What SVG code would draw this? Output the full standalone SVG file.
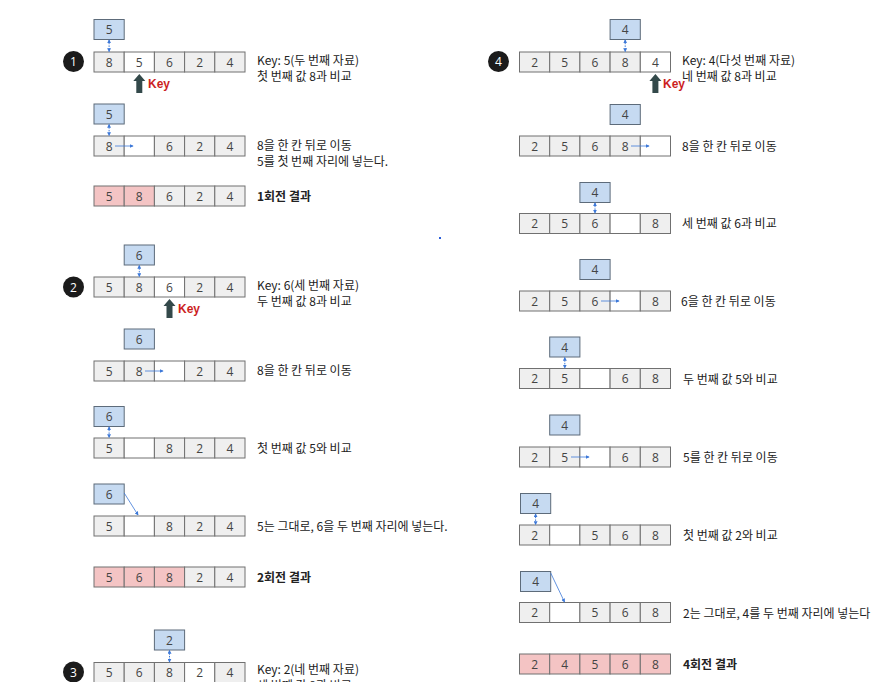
<svg xmlns="http://www.w3.org/2000/svg" width="875" height="682" viewBox="0 0 875 682">
<defs>
<style>
.c{fill:#efefef;stroke:#707070;stroke-width:1}
.e{fill:#ffffff;stroke:#707070;stroke-width:1}
.p{fill:#f4c4c4;stroke:#707070;stroke-width:1}
.k{fill:#c6daf1;stroke:#5d6b7a;stroke-width:1}
.n{font-family:"Open Sans","Noto Sans CJK KR",sans-serif;font-size:12px;fill:#444;text-anchor:middle}
.d{font-family:"Noto Sans CJK KR","Noto Sans",sans-serif;font-size:12px;fill:#222}
.b{font-weight:bold}
.kl{font-family:"Liberation Sans","Noto Sans",sans-serif;font-size:12px;font-weight:bold;fill:#cc1f1f}
.ci{fill:#1b1b1b}
.cn{font-family:"Open Sans",sans-serif;font-size:12px;fill:#fff;text-anchor:middle}
.v{stroke:#3c78d8;stroke-width:1;stroke-dasharray:1.5 1.2;fill:none;marker-start:url(#ah);marker-end:url(#ah)}
.h{stroke:#3c78d8;stroke-width:0.8;fill:none;marker-end:url(#ah)}
.ka{fill:#33494a}
</style>
<marker id="ah" viewBox="0 0 6 6" refX="5" refY="3" markerWidth="4" markerHeight="4" orient="auto-start-reverse" markerUnits="userSpaceOnUse">
<path d="M0,0 L6,3 L0,6 z" fill="#3c78d8"/>
</marker>
<path id="karrow" d="M0,0 L6,7 L3,7 L3,19 L-3,19 L-3,7 L-6,7 z"/>
</defs>
<rect width="875" height="682" fill="#ffffff"/>

<!-- Section 1 -->
<g id="circle1"><circle class="ci" cx="73.5" cy="61.5" r="10.5"/><text class="cn" x="73.5" y="66">1</text></g>
<g id="s1-key1"><rect class="k" x="94" y="19.5" width="30.2" height="20"/><text class="n" x="109.1" y="34">5</text></g>
<g id="s1-arr1">
<rect class="c" x="94" y="52" width="30.2" height="20"/><rect class="e" x="124.2" y="52" width="30.2" height="20"/><rect class="c" x="154.4" y="52" width="30.2" height="20"/><rect class="c" x="184.6" y="52" width="30.2" height="20"/><rect class="c" x="214.8" y="52" width="30.2" height="20"/>
<text class="n" x="109.1" y="66.5">8</text><text class="n" x="139.3" y="66.5">5</text><text class="n" x="169.5" y="66.5">6</text><text class="n" x="199.7" y="66.5">2</text><text class="n" x="229.9" y="66.5">4</text>
</g>
<g id="s1-txt1"><text class="d" x="257" y="65.3">Key: 5(두 번째 자료)</text><text class="d" x="257" y="81.3">첫 번째 값 8과 비교</text></g>
<g id="s1-keyptr"><use href="#karrow" class="ka" x="139.3" y="74"/><text class="kl" x="148" y="88">Key</text></g>
<g id="s1-key2"><rect class="k" x="94" y="104" width="30.2" height="20"/><text class="n" x="109.1" y="118.5">5</text></g>
<g id="s1-arr2">
<rect class="c" x="94" y="136" width="30.2" height="20"/><rect class="e" x="124.2" y="136" width="30.2" height="20"/><rect class="c" x="154.4" y="136" width="30.2" height="20"/><rect class="c" x="184.6" y="136" width="30.2" height="20"/><rect class="c" x="214.8" y="136" width="30.2" height="20"/>
<text class="n" x="109.1" y="150.5">8</text><text class="n" x="169.5" y="150.5">6</text><text class="n" x="199.7" y="150.5">2</text><text class="n" x="229.9" y="150.5">4</text>
</g>
<g id="s1-txt2"><text class="d" x="257" y="150">8을 한 칸 뒤로 이동</text><text class="d" x="257" y="166">5를 첫 번째 자리에 넣는다.</text></g>
<g id="s1-res">
<rect class="p" x="94" y="186" width="30.2" height="20"/><rect class="p" x="124.2" y="186" width="30.2" height="20"/><rect class="c" x="154.4" y="186" width="30.2" height="20"/><rect class="c" x="184.6" y="186" width="30.2" height="20"/><rect class="c" x="214.8" y="186" width="30.2" height="20"/>
<text class="n" x="109.1" y="200.5">5</text><text class="n" x="139.3" y="200.5">8</text><text class="n" x="169.5" y="200.5">6</text><text class="n" x="199.7" y="200.5">2</text><text class="n" x="229.9" y="200.5">4</text>
<text class="d b" x="257" y="201">1회전 결과</text>
</g>

<!-- Section 2 -->
<g id="circle2"><circle class="ci" cx="73.5" cy="287" r="10.5"/><text class="cn" x="73.5" y="291.5">2</text></g>
<g id="s2-key1"><rect class="k" x="124.2" y="245" width="30.2" height="20"/><text class="n" x="139.3" y="259.5">6</text></g>
<g id="s2-arr1">
<rect class="c" x="94" y="277" width="30.2" height="20"/><rect class="c" x="124.2" y="277" width="30.2" height="20"/><rect class="e" x="154.4" y="277" width="30.2" height="20"/><rect class="c" x="184.6" y="277" width="30.2" height="20"/><rect class="c" x="214.8" y="277" width="30.2" height="20"/>
<text class="n" x="109.1" y="291.5">5</text><text class="n" x="139.3" y="291.5">8</text><text class="n" x="169.5" y="291.5">6</text><text class="n" x="199.7" y="291.5">2</text><text class="n" x="229.9" y="291.5">4</text>
</g>
<g id="s2-txt1"><text class="d" x="257" y="290">Key: 6(세 번째 자료)</text><text class="d" x="257" y="306">두 번째 값 8과 비교</text></g>
<g id="s2-keyptr"><use href="#karrow" class="ka" x="169.5" y="299"/><text class="kl" x="178" y="313">Key</text></g>
<g id="s2-key2"><rect class="k" x="124.2" y="329" width="30.2" height="20"/><text class="n" x="139.3" y="343.5">6</text></g>
<g id="s2-arr2">
<rect class="c" x="94" y="361" width="30.2" height="20"/><rect class="c" x="124.2" y="361" width="30.2" height="20"/><rect class="e" x="154.4" y="361" width="30.2" height="20"/><rect class="c" x="184.6" y="361" width="30.2" height="20"/><rect class="c" x="214.8" y="361" width="30.2" height="20"/>
<text class="n" x="109.1" y="375.5">5</text><text class="n" x="139.3" y="375.5">8</text><text class="n" x="199.7" y="375.5">2</text><text class="n" x="229.9" y="375.5">4</text>
</g>
<g id="s2-txt2"><text class="d" x="257" y="375">8을 한 칸 뒤로 이동</text></g>
<g id="s2-key3"><rect class="k" x="94" y="406.5" width="30.2" height="20"/><text class="n" x="109.1" y="421">6</text></g>
<g id="s2-arr3">
<rect class="c" x="94" y="438" width="30.2" height="20"/><rect class="e" x="124.2" y="438" width="30.2" height="20"/><rect class="c" x="154.4" y="438" width="30.2" height="20"/><rect class="c" x="184.6" y="438" width="30.2" height="20"/><rect class="c" x="214.8" y="438" width="30.2" height="20"/>
<text class="n" x="109.1" y="452.5">5</text><text class="n" x="169.5" y="452.5">8</text><text class="n" x="199.7" y="452.5">2</text><text class="n" x="229.9" y="452.5">4</text>
</g>
<g id="s2-txt3"><text class="d" x="257" y="453">첫 번째 값 5와 비교</text></g>
<g id="s2-key4"><rect class="k" x="94" y="484" width="30.2" height="20"/><text class="n" x="109.1" y="498.5">6</text></g>
<g id="s2-arr4">
<rect class="c" x="94" y="516" width="30.2" height="20"/><rect class="e" x="124.2" y="516" width="30.2" height="20"/><rect class="c" x="154.4" y="516" width="30.2" height="20"/><rect class="c" x="184.6" y="516" width="30.2" height="20"/><rect class="c" x="214.8" y="516" width="30.2" height="20"/>
<text class="n" x="109.1" y="530.5">5</text><text class="n" x="169.5" y="530.5">8</text><text class="n" x="199.7" y="530.5">2</text><text class="n" x="229.9" y="530.5">4</text>
</g>
<g id="s2-txt4"><text class="d" x="257" y="531">5는 그대로, 6을 두 번째 자리에 넣는다.</text></g>
<g id="s2-res">
<rect class="p" x="94" y="567" width="30.2" height="20"/><rect class="p" x="124.2" y="567" width="30.2" height="20"/><rect class="p" x="154.4" y="567" width="30.2" height="20"/><rect class="c" x="184.6" y="567" width="30.2" height="20"/><rect class="c" x="214.8" y="567" width="30.2" height="20"/>
<text class="n" x="109.1" y="581.5">5</text><text class="n" x="139.3" y="581.5">6</text><text class="n" x="169.5" y="581.5">8</text><text class="n" x="199.7" y="581.5">2</text><text class="n" x="229.9" y="581.5">4</text>
<text class="d b" x="257" y="582">2회전 결과</text>
</g>

<!-- Section 3 -->
<g id="circle3"><circle class="ci" cx="73.5" cy="672" r="10.5"/><text class="cn" x="73.5" y="676.5">3</text></g>
<g id="s3-key1"><rect class="k" x="154.4" y="630" width="30.2" height="20"/><text class="n" x="169.5" y="644.5">2</text></g>
<g id="s3-arr1">
<rect class="c" x="94" y="662.5" width="30.2" height="20"/><rect class="c" x="124.2" y="662.5" width="30.2" height="20"/><rect class="c" x="154.4" y="662.5" width="30.2" height="20"/><rect class="e" x="184.6" y="662.5" width="30.2" height="20"/><rect class="c" x="214.8" y="662.5" width="30.2" height="20"/>
<text class="n" x="109.1" y="677">5</text><text class="n" x="139.3" y="677">6</text><text class="n" x="169.5" y="677">8</text><text class="n" x="199.7" y="677">2</text><text class="n" x="229.9" y="677">4</text>
</g>
<g id="s3-txt1"><text class="d" x="257" y="674">Key: 2(네 번째 자료)</text><text class="d" x="257" y="689.5">세 번째 값 8과 비교</text></g>

<!-- Section 4 -->
<g id="circle4"><circle class="ci" cx="498.5" cy="61.5" r="10.5"/><text class="cn" x="498.5" y="66">4</text></g>
<g id="s4-key1"><rect class="k" x="610.1" y="19.5" width="30.2" height="20"/><text class="n" x="625.2" y="34">4</text></g>
<g id="s4-arr1">
<rect class="c" x="519.5" y="52" width="30.2" height="20"/><rect class="c" x="549.7" y="52" width="30.2" height="20"/><rect class="c" x="579.9" y="52" width="30.2" height="20"/><rect class="c" x="610.1" y="52" width="30.2" height="20"/><rect class="e" x="640.3" y="52" width="30.2" height="20"/>
<text class="n" x="534.6" y="66.5">2</text><text class="n" x="564.8" y="66.5">5</text><text class="n" x="595" y="66.5">6</text><text class="n" x="625.2" y="66.5">8</text><text class="n" x="655.4" y="66.5">4</text>
</g>
<g id="s4-txt1"><text class="d" x="682" y="65.3">Key: 4(다섯 번째 자료)</text><text class="d" x="682" y="81.3">네 번째 값 8과 비교</text></g>
<g id="s4-keyptr"><use href="#karrow" class="ka" x="655.4" y="74"/><text class="kl" x="663" y="88">Key</text></g>
<g id="s4-key2"><rect class="k" x="610.1" y="104.5" width="30.2" height="20"/><text class="n" x="625.2" y="119">4</text></g>
<g id="s4-arr2">
<rect class="c" x="519.5" y="136" width="30.2" height="20"/><rect class="c" x="549.7" y="136" width="30.2" height="20"/><rect class="c" x="579.9" y="136" width="30.2" height="20"/><rect class="c" x="610.1" y="136" width="30.2" height="20"/><rect class="e" x="640.3" y="136" width="30.2" height="20"/>
<text class="n" x="534.6" y="150.5">2</text><text class="n" x="564.8" y="150.5">5</text><text class="n" x="595" y="150.5">6</text><text class="n" x="625.2" y="150.5">8</text>
</g>
<g id="s4-txt2"><text class="d" x="682" y="151">8을 한 칸 뒤로 이동</text></g>
<g id="s4-key3"><rect class="k" x="579.9" y="182.5" width="30.2" height="20"/><text class="n" x="595" y="197">4</text></g>
<g id="s4-arr3">
<rect class="c" x="519.5" y="213.5" width="30.2" height="20"/><rect class="c" x="549.7" y="213.5" width="30.2" height="20"/><rect class="c" x="579.9" y="213.5" width="30.2" height="20"/><rect class="e" x="610.1" y="213.5" width="30.2" height="20"/><rect class="c" x="640.3" y="213.5" width="30.2" height="20"/>
<text class="n" x="534.6" y="228">2</text><text class="n" x="564.8" y="228">5</text><text class="n" x="595" y="228">6</text><text class="n" x="655.4" y="228">8</text>
</g>
<g id="s4-txt3"><text class="d" x="682" y="228">세 번째 값 6과 비교</text></g>
<g id="s4-key4"><rect class="k" x="579.9" y="259.5" width="30.2" height="20"/><text class="n" x="595" y="274">4</text></g>
<g id="s4-arr4">
<rect class="c" x="519.5" y="291" width="30.2" height="20"/><rect class="c" x="549.7" y="291" width="30.2" height="20"/><rect class="c" x="579.9" y="291" width="30.2" height="20"/><rect class="e" x="610.1" y="291" width="30.2" height="20"/><rect class="c" x="640.3" y="291" width="30.2" height="20"/>
<text class="n" x="534.6" y="305.5">2</text><text class="n" x="564.8" y="305.5">5</text><text class="n" x="595" y="305.5">6</text><text class="n" x="655.4" y="305.5">8</text>
</g>
<g id="s4-txt4"><text class="d" x="681" y="306">6을 한 칸 뒤로 이동</text></g>
<g id="s4-key5"><rect class="k" x="549.7" y="337" width="30.2" height="20"/><text class="n" x="564.8" y="351.5">4</text></g>
<g id="s4-arr5">
<rect class="c" x="519.5" y="368.5" width="30.2" height="20"/><rect class="c" x="549.7" y="368.5" width="30.2" height="20"/><rect class="e" x="579.9" y="368.5" width="30.2" height="20"/><rect class="c" x="610.1" y="368.5" width="30.2" height="20"/><rect class="c" x="640.3" y="368.5" width="30.2" height="20"/>
<text class="n" x="534.6" y="383">2</text><text class="n" x="564.8" y="383">5</text><text class="n" x="625.2" y="383">6</text><text class="n" x="655.4" y="383">8</text>
</g>
<g id="s4-txt5"><text class="d" x="683" y="383.5">두 번째 값 5와 비교</text></g>
<g id="s4-key6"><rect class="k" x="549.7" y="415" width="30.2" height="20"/><text class="n" x="564.8" y="429.5">4</text></g>
<g id="s4-arr6">
<rect class="c" x="519.5" y="447" width="30.2" height="20"/><rect class="c" x="549.7" y="447" width="30.2" height="20"/><rect class="e" x="579.9" y="447" width="30.2" height="20"/><rect class="c" x="610.1" y="447" width="30.2" height="20"/><rect class="c" x="640.3" y="447" width="30.2" height="20"/>
<text class="n" x="534.6" y="461.5">2</text><text class="n" x="564.8" y="461.5">5</text><text class="n" x="625.2" y="461.5">6</text><text class="n" x="655.4" y="461.5">8</text>
</g>
<g id="s4-txt6"><text class="d" x="683" y="462">5를 한 칸 뒤로 이동</text></g>
<g id="s4-key7"><rect class="k" x="520.5" y="493.5" width="30.2" height="20"/><text class="n" x="535.6" y="508">4</text></g>
<g id="s4-arr7">
<rect class="c" x="519.5" y="525" width="30.2" height="20"/><rect class="e" x="549.7" y="525" width="30.2" height="20"/><rect class="c" x="579.9" y="525" width="30.2" height="20"/><rect class="c" x="610.1" y="525" width="30.2" height="20"/><rect class="c" x="640.3" y="525" width="30.2" height="20"/>
<text class="n" x="534.6" y="539.5">2</text><text class="n" x="595" y="539.5">5</text><text class="n" x="625.2" y="539.5">6</text><text class="n" x="655.4" y="539.5">8</text>
</g>
<g id="s4-txt7"><text class="d" x="683" y="540">첫 번째 값 2와 비교</text></g>
<g id="s4-key8"><rect class="k" x="520.5" y="571.5" width="30.2" height="20"/><text class="n" x="535.6" y="586">4</text></g>
<g id="s4-arr8">
<rect class="c" x="519.5" y="602.5" width="30.2" height="20"/><rect class="e" x="549.7" y="602.5" width="30.2" height="20"/><rect class="c" x="579.9" y="602.5" width="30.2" height="20"/><rect class="c" x="610.1" y="602.5" width="30.2" height="20"/><rect class="c" x="640.3" y="602.5" width="30.2" height="20"/>
<text class="n" x="534.6" y="617">2</text><text class="n" x="595" y="617">5</text><text class="n" x="625.2" y="617">6</text><text class="n" x="655.4" y="617">8</text>
</g>
<g id="s4-txt8"><text class="d" x="683" y="617.5">2는 그대로, 4를 두 번째 자리에 넣는다</text></g>
<g id="s4-res">
<rect class="p" x="519.5" y="654" width="30.2" height="20"/><rect class="p" x="549.7" y="654" width="30.2" height="20"/><rect class="p" x="579.9" y="654" width="30.2" height="20"/><rect class="p" x="610.1" y="654" width="30.2" height="20"/><rect class="p" x="640.3" y="654" width="30.2" height="20"/>
<text class="n" x="534.6" y="668.5">2</text><text class="n" x="564.8" y="668.5">4</text><text class="n" x="595" y="668.5">5</text><text class="n" x="625.2" y="668.5">6</text><text class="n" x="655.4" y="668.5">8</text>
<text class="d b" x="683" y="669">4회전 결과</text>
</g>

<rect id="stray-dot" x="439" y="237" width="2" height="2" fill="#2b5fd9"/>

<g id="connectors">
<line class="v" x1="109.1" y1="40" x2="109.1" y2="51.5"/>
<line class="v" x1="109.1" y1="124.5" x2="109.1" y2="135.5"/>
<line class="h" x1="115" y1="146" x2="133" y2="146"/>
<line class="v" x1="139.3" y1="265.5" x2="139.3" y2="276.5"/>
<line class="h" x1="145" y1="371" x2="163" y2="371"/>
<line class="v" x1="109.1" y1="427" x2="109.1" y2="437.5"/>
<line class="h" x1="124.2" y1="493" x2="138" y2="515"/>
<line class="v" x1="169.5" y1="650.5" x2="169.5" y2="662"/>
<line class="v" x1="625.2" y1="40" x2="625.2" y2="51.5"/>
<line class="h" x1="631" y1="146" x2="649" y2="146"/>
<line class="v" x1="595" y1="203" x2="595" y2="213"/>
<line class="h" x1="601" y1="301" x2="619" y2="301"/>
<line class="v" x1="564.8" y1="357.5" x2="564.8" y2="368"/>
<line class="h" x1="571" y1="457" x2="589" y2="457"/>
<line class="v" x1="535.6" y1="514" x2="535.6" y2="524.5"/>
<line class="h" x1="550.7" y1="573" x2="564.5" y2="602"/>
</g>
</svg>
